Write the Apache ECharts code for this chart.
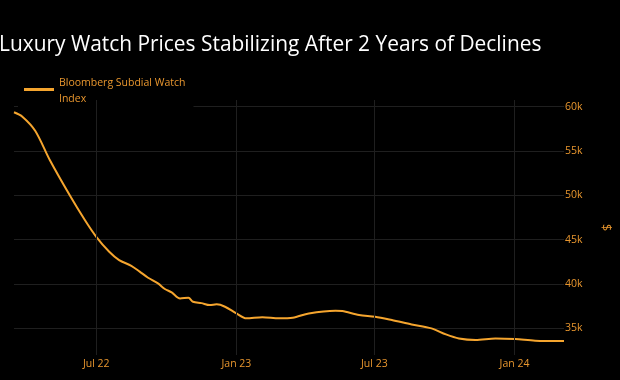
<!DOCTYPE html>
<html>
<head>
<meta charset="utf-8">
<script src="https://cdn.jsdelivr.net/npm/echarts@6/dist/echarts.min.js"></script>
<style>
html,body{margin:0;padding:0;background:#000;}
#chart{width:620px;height:380px;}
</style>
</head>
<body>
<div id="chart"></div>
<script>
const titleText = "Luxury Watch Prices Stabilizing After 2 Years of Declines";
const seriesName = "Bloomberg Subdial Watch Index";
const yAxisName = "$";
const dates = [
  "2022-03-15","2022-03-26","2022-04-12","2022-05-01","2022-05-27","2022-06-16",
  "2022-07-01","2022-07-18","2022-07-31","2022-08-16","2022-08-27","2022-09-07",
  "2022-09-20","2022-09-29","2022-10-08","2022-10-19","2022-10-30","2022-11-05",
  "2022-11-16","2022-11-27","2022-12-06","2022-12-17","2023-01-01","2023-01-14",
  "2023-02-04","2023-02-26","2023-03-16","2023-04-06","2023-05-11","2023-05-20",
  "2023-06-11","2023-07-02","2023-07-24","2023-08-19","2023-09-14","2023-10-03",
  "2023-10-20","2023-11-11","2023-12-07","2024-01-02","2024-01-28","2024-03-06"
];
const values = [
  59370,58870,57260,53990,50040,47220,
  45330,43640,42700,42060,41400,40710,
  40080,39440,39060,38380,38450,38000,
  37850,37630,37710,37440,36690,36130,
  36270,36130,36200,36690,36990,36950,
  36500,36310,35940,35450,35000,34320,
  33870,33700,33870,33800,33620,33570
];
const xTickDates = ["2022-07-01","2023-01-01","2023-07-01","2024-01-01"];
const xTickLabels = ["Jul 22","Jan 23","Jul 23","Jan 24"];

const MON = ["Jan","Feb","Mar","Apr","May","Jun","Jul","Aug","Sep","Oct","Nov","Dec"];
const orange = "#f5a52e";
const labelColor = "#e8962e";
const gridColor = "#1f1f1f";
const font = "Open Sans";

const chart = echarts.init(document.getElementById('chart'), null, {renderer:'canvas'});
chart.setOption({
  backgroundColor: '#000',
  animation: false,
  title: {
    text: titleText, left: -1, top: 35, padding: 0,
    textStyle: {color:'#ffffff', fontSize: 20.9, fontWeight: 'normal', fontFamily: font}
  },
  legend: {
    left: 18, top: 73,
    padding: [5, 8, 2, 6],
    backgroundColor: '#000',
    itemWidth: 30, itemHeight: 3, itemGap: 6,
    icon: 'rect',
    data: [seriesName],
    formatter: () => "{a|Bloomberg Subdial Watch}\n{b|Index}",
    textStyle: {
      color: labelColor, fontSize: 10.5, fontFamily: font,
      rich: {
        a: {color: labelColor, fontSize: 10.5, fontFamily: font, lineHeight: 20},
        b: {color: labelColor, fontSize: 10.5, fontFamily: font, lineHeight: 12}
      }
    }
  },
  grid: {left: 14, right: 54, top: 100, bottom: 25, containLabel: false},
  xAxis: {
    type: 'time',
    min: '2022-03-15', max: '2024-03-06',
    axisLine: {show:false}, axisTick: {show:false},
    splitLine: {show:false},
    axisLabel: {
      color: labelColor, fontSize: 10.5, fontFamily: font, margin: 4,
      showMinLabel: false, showMaxLabel: false,
      formatter: function (v) {
        const d = new Date(v);
        const s = MON[d.getMonth()] + " " + String(d.getFullYear()).slice(2);
        return (d.getDate() === 1 && xTickLabels.indexOf(s) >= 0) ? s : '';
      }
    }
  },
  yAxis: {
    type: 'value', position: 'right',
    min: 32000, max: 60750,
    name: yAxisName, nameLocation: 'middle', nameRotate: -90, nameGap: 35,
    nameTextStyle: {color: labelColor, fontSize: 12.5, fontFamily: font},
    axisLine: {show:false}, axisTick: {show:false},
    splitLine: {show:true, showMinLine:false, showMaxLine:false, lineStyle:{color:gridColor, width:1}},
    axisLabel: {
      color: labelColor, fontSize: 10.5, fontFamily: font, margin: 1,
      showMinLabel: false, showMaxLabel: false,
      formatter: v => (v % 5000 === 0) ? (v/1000) + 'k' : ''
    }
  },
  series: [{
    name: 'gridlines', type: 'line', data: [], z: 1, silent: true,
    markLine: {
      silent: true, symbol: ['none','none'], label: {show:false},
      lineStyle: {color: gridColor, width: 1, type: 'solid'},
      emphasis: {disabled: true},
      data: xTickDates.map(d => ({xAxis: d}))
    }
  }, {
    name: seriesName, type: 'line', z: 3,
    data: dates.map((d,i) => [d, values[i]]),
    showSymbol: false, smooth: 0.3,
    lineStyle: {color: orange, width: 2},
    itemStyle: {color: orange}
  }]
});
</script>
</body>
</html>
